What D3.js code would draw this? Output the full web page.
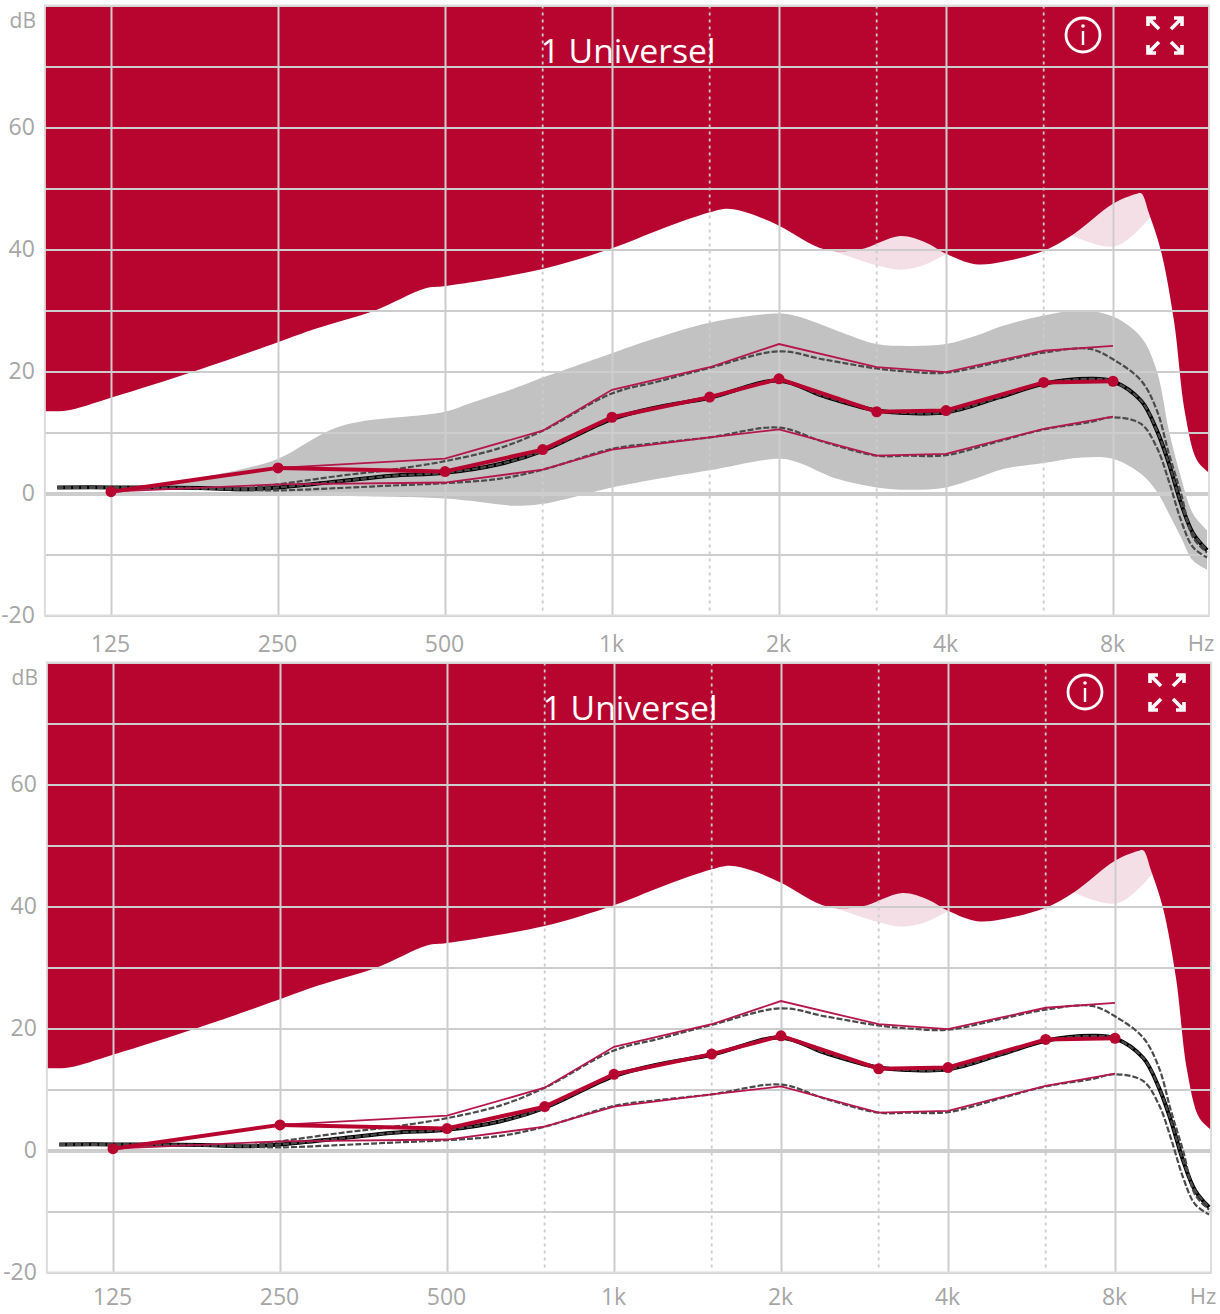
<!DOCTYPE html>
<html>
<head>
<meta charset="utf-8">
<script src="https://d3js.org/d3.v7.min.js"></script>
<style>
  html, body { margin: 0; padding: 0; background: #fff; }
  svg { display: block; }
  text { font-family: "Open Sans", sans-serif; }
  .tick text { fill: #a6a6a6; font-size: 23px; }
</style>
</head>
<body>
<svg id="chart" width="1220" height="1314"></svg>
<script>
const title = '1 Universel';

// tick values
const xTicks = [125, 250, 500, 1000, 2000, 4000, 8000];
const xTickLabels = ['125', '250', '500', '1k', '2k', '4k', '8k'];
const xDotted = [750, 1500, 3000, 6000];
const yGrid = [-20, -10, 0, 10, 20, 30, 40, 50, 60, 70, 80];
const yLabelled = [-20, 0, 20, 40, 60];

// red limit curve
const limitFreqs = [95, 104, 125, 179, 250, 292, 374, 460, 500, 750, 1000, 1215, 1500, 1619, 1772, 2000, 2420, 2800, 3307, 3667, 4000, 4512, 5068, 6000, 6740, 8000, 8800, 9000, 9290, 9760, 10300, 10790, 11340, 11920];
const limitDb = [13.5, 13.6, 15.7, 20.2, 24.8, 27, 30, 33.6, 34, 36.8, 40.2, 43.2, 46.1, 46.7, 45.9, 43.9, 40, 40, 42.2, 41.2, 39.3, 37.6, 38, 39.8, 42.3, 47.5, 49.1, 49.2, 45.9, 39.8, 28.4, 13.1, 5.4, 3.4];

// pink lobes under the limit curve
const lobeAFreqs = [2420, 2544, 3000, 3307, 3640, 3960, 4050];
const lobeADb = [40, 39.5, 37.4, 36.7, 37.4, 39, 39.4];
const lobeBFreqs = [6740, 7360, 8050, 8680, 9400];
const lobeBDb = [42.3, 41, 40.5, 42.3, 45.6];

// grey band
const bandFreqs = [147, 211, 250, 323, 500, 555, 666, 750, 1000, 1156, 1500, 2000, 2165, 2544, 3000, 3416, 4000, 4512, 5068, 6000, 7033, 8000, 8990, 9600, 10090, 10610, 11150, 11820];
const bandUpper = [1.2, 3.8, 5.7, 11, 13.4, 14.8, 17.2, 19, 23, 25, 28, 29.5, 29, 26.7, 24.5, 24.2, 24.5, 25.8, 27.5, 29.2, 30, 29, 25.6, 20, 10.3, 2.6, -3.3, -6];
const bandLower = [0.6, 0.3, -0.3, -0.4, -0.8, -1.2, -2, -1.7, 1, 2.1, 3.8, 5.7, 5.1, 2.4, 1, 0.6, 1, 2.4, 4, 5, 5.9, 5.7, 3.2, 0.3, -3.3, -7.2, -11, -12.5];

// black curves
const curveFreqs = [100, 125, 181, 220, 250, 323, 400, 500, 625, 750, 1000, 1215, 1500, 2000, 2400, 3000, 3400, 4000, 5000, 6000, 7270, 8000, 8990, 9600, 10090, 10610, 11150, 11820];
const curveMid = [1, 1, 0.9, 0.7, 1, 2, 2.9, 3.4, 4.8, 7, 12.2, 14.2, 15.7, 18.5, 16, 13.6, 13.2, 13.3, 15.8, 18, 18.8, 18.4, 15.2, 10.3, 4.9, -1.6, -6.5, -9.3];
const curveHigh = [1, 1, 0.9, 0.9, 1.5, 2.9, 3.9, 5.3, 7.4, 10.3, 16.4, 18.4, 20.6, 23.3, 22, 20.5, 20, 19.8, 21.6, 23.1, 23.7, 22, 18.5, 13.6, 6.5, 0, -7.2, -9.7];
const curveLow = [0.9, 0.9, 0.8, 0.6, 0.5, 0.9, 1.3, 1.7, 2.4, 3.9, 7.3, 8.3, 9.2, 10.8, 8.5, 6.2, 6.2, 6.3, 8.6, 10.5, 11.7, 12.5, 11.4, 7.5, 2, -4.4, -8.8, -10.5];

// crimson target lines
const targetFreqs = [125, 250, 500, 750, 1000, 1500, 2000, 3000, 4000, 6000, 8000];
const targetMid = [0.3, 4.2, 3.6, 7.2, 12.5, 15.8, 18.8, 13.4, 13.6, 18.2, 18.4];
const targetHigh = [0.3, 4.2, 5.7, 10.3, 17, 20.7, 24.5, 20.7, 19.9, 23.4, 24.2];
const targetLow = [0.3, 1.5, 1.8, 3.9, 7.2, 9.2, 10.5, 6.2, 6.5, 10.6, 12.6];

const red = '#b70530';
const gridColor = '#cdcdcd';

const x = d3.scaleLog().domain([125, 8000]).range([111, 1113]);
const y = d3.scaleLinear().domain([-20, 80]).range([615.5, 5.5]);

const svg = d3.select('#chart');
const soft = d3.curveCatmullRom.alpha(0.5);
const smooth = d3.line().x(d => x(d[0])).y(d => y(d[1])).curve(soft);
const straight = d3.line().x(d => x(d[0])).y(d => y(d[1]));
const fromTop = d3.area().x(d => x(d[0])).y0(y(80)).y1(d => y(d[1])).curve(soft);

const drawPanel = (dx, dy, withBand, labelPad) => {
  const g = svg.append('g').attr('transform', `translate(${dx},${dy})`);
  const left = x(95), right = x(11920);

  // pink lobes first, the red area covers their tops
  [[lobeAFreqs, lobeADb], [lobeBFreqs, lobeBDb]].forEach(([f, v]) => {
    g.append('path').attr('d', fromTop(d3.zip(f, v))).attr('fill', '#f4dfe6');
  });
  g.append('path').attr('d', fromTop(d3.zip(limitFreqs, limitDb))).attr('fill', red);

  if (withBand) {
    const band = d3.area().x(d => x(d[0])).y0(d => y(d[2])).y1(d => y(d[1])).curve(soft);
    g.append('path').attr('d', band(d3.zip(bandFreqs, bandUpper, bandLower))).attr('fill', '#c2c2c2');
  }

  // grid
  g.selectAll('.dotted').data(xDotted).join('line')
    .attr('class', 'dotted')
    .attr('x1', d => x(d)).attr('x2', d => x(d))
    .attr('y1', y(80)).attr('y2', y(-20) - 4)
    .attr('stroke', gridColor).attr('stroke-width', 1.8).attr('stroke-dasharray', '3 4');

  const yAxis = d3.axisLeft(y).tickValues(yGrid).tickSize(left - right).tickPadding(10)
    .tickFormat(d => yLabelled.includes(d) ? d : '');
  const yG = g.append('g').attr('transform', `translate(${left},0)`).call(yAxis);
  yG.select('.domain').remove();
  yG.selectAll('.tick line').attr('stroke', gridColor).attr('stroke-width', d => d === 0 ? 4 : 2);

  const xAxis = d3.axisBottom(x).tickValues(xTicks).tickSize(y(80) - y(-20)).tickPadding(labelPad)
    .tickFormat((d, i) => xTickLabels[i]);
  const xG = g.append('g').attr('transform', `translate(0,${y(-20)})`).call(xAxis);
  xG.select('.domain').remove();
  xG.selectAll('.tick line').attr('stroke', gridColor).attr('stroke-width', 2);
  xG.selectAll('.tick text').attr('dx', -1);

  g.append('rect')
    .attr('x', left).attr('y', y(80)).attr('width', right - left).attr('height', y(-20) - y(80))
    .attr('fill', 'none').attr('stroke', '#dcdcdc').attr('stroke-width', 2);

  // curves
  g.append('path').attr('d', smooth(d3.zip(curveFreqs, curveMid)))
    .attr('fill', 'none').attr('stroke', '#000').attr('stroke-width', 4);
  [curveHigh, curveLow, curveMid].forEach(v => {
    g.append('path').attr('d', smooth(d3.zip(curveFreqs, v)))
      .attr('fill', 'none').attr('stroke', '#4a4a4a').attr('stroke-width', 2.2).attr('stroke-dasharray', '6 2');
  });

  // targets
  [targetHigh, targetLow].forEach(v => {
    g.append('path').attr('d', straight(d3.zip(targetFreqs, v)))
      .attr('fill', 'none').attr('stroke', '#b5174a').attr('stroke-width', 1.8);
  });
  g.append('path').attr('d', straight(d3.zip(targetFreqs, targetMid)))
    .attr('fill', 'none').attr('stroke', red).attr('stroke-width', 4);
  g.selectAll('.dot').data(d3.zip(targetFreqs, targetMid)).join('circle')
    .attr('class', 'dot')
    .attr('cx', d => x(d[0])).attr('cy', d => y(d[1])).attr('r', 5.5)
    .attr('fill', red);

  // labels
  g.append('text').attr('x', 36).attr('y', 28).attr('text-anchor', 'end')
    .attr('fill', '#a6a6a6').attr('font-size', 21).text('dB');
  g.append('text').attr('x', 1201).attr('y', y(-20) + labelPad + 15).attr('text-anchor', 'middle')
    .attr('fill', '#a6a6a6').attr('font-size', 22).text('Hz');
  g.append('text').attr('x', 628).attr('y', 63).attr('text-anchor', 'middle')
    .attr('fill', '#fff').attr('font-size', 32)
    .attr('textLength', 175).attr('lengthAdjust', 'spacingAndGlyphs').text(title);

  // info icon
  g.append('circle').attr('cx', 1083).attr('cy', 35).attr('r', 17)
    .attr('fill', 'none').attr('stroke', '#fff').attr('stroke-width', 2.8);
  g.append('circle').attr('cx', 1083).attr('cy', 26).attr('r', 1.8).attr('fill', '#fff');
  g.append('line').attr('x1', 1083).attr('x2', 1083).attr('y1', 31).attr('y2', 45)
    .attr('stroke', '#fff').attr('stroke-width', 2.4);

  // expand icon
  [[1148, 18, 1, 1], [1182, 18, -1, 1], [1148, 53, 1, -1], [1182, 53, -1, -1]].forEach(([cx, cy, sx, sy]) => {
    g.append('path')
      .attr('d', `M${cx + 11 * sx},${cy + 11 * sy}L${cx + 2 * sx},${cy + 2 * sy}M${cx},${cy + 8 * sy}L${cx},${cy}L${cx + 8 * sx},${cy}`)
      .attr('fill', 'none').attr('stroke', '#fff').attr('stroke-width', 3.6);
  });
};

drawPanel(0, 0, true, 20);
drawPanel(2, 657, false, 16);
</script>
</body>
</html>
